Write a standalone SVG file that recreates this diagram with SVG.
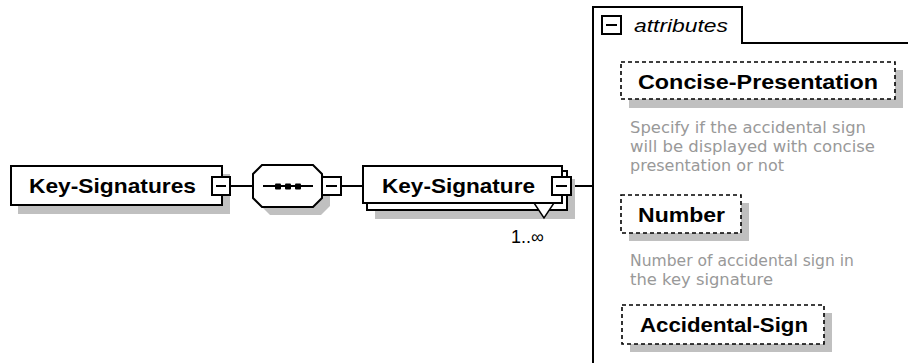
<svg xmlns="http://www.w3.org/2000/svg" width="908" height="363" viewBox="0 0 908 363">
<style>
.box{fill:#fff;stroke:#000;stroke-width:2}
.shadow{fill:#c0c0c0}
.dash{fill:#fff;stroke:#000;stroke-width:1.6;stroke-dasharray:4 3}
.line{stroke:#000;stroke-width:2;fill:none}
.name{font-family:"Liberation Sans",Arial,sans-serif;font-weight:bold;font-size:21px;fill:#000}
.desc{font-family:"DejaVu Sans","Liberation Sans",sans-serif;font-size:15.5px;fill:#999}
.minus{stroke:#000;stroke-width:2}
</style>
<rect width="908" height="363" fill="#fff"/>
<g id="connectors">
<line class="line" x1="230" y1="186" x2="253" y2="186"/>
<line class="line" x1="342" y1="186" x2="363" y2="186"/>
<line class="line" x1="572" y1="186" x2="593" y2="186"/>
</g>
<g id="key-signatures">
<rect class="shadow" x="18" y="174" width="212" height="40"/>
<rect class="box" x="11" y="166" width="211" height="39"/>
<text class="name" x="29" y="193" textLength="167" lengthAdjust="spacingAndGlyphs">Key-Signatures</text>
<rect class="box" x="212" y="177" width="18" height="18"/>
<line class="minus" x1="216" y1="186" x2="226" y2="186"/>
</g>
<g id="sequence">
<polygon class="shadow" points="270,173 321,173 330,182 330,206 321,215 270,215 261,206 261,182"/>
<polygon class="box" points="262,165 313,165 322,174 322,198 313,207 262,207 253,198 253,174"/>
<line class="line" x1="263" y1="186" x2="313" y2="186"/>
<rect x="275" y="183.5" width="6" height="6" rx="1" fill="#000"/>
<rect x="285" y="183.5" width="6" height="6" rx="1" fill="#000"/>
<rect x="295" y="183.5" width="6" height="6" rx="1" fill="#000"/>
<rect class="box" x="322" y="177" width="19" height="18"/>
<line class="minus" x1="326" y1="186" x2="337" y2="186"/>
</g>
<g id="key-signature">
<rect class="shadow" x="375" y="179" width="200" height="40"/>
<rect class="box" x="367" y="171" width="200" height="39"/>
<rect class="box" x="363" y="166" width="199" height="37"/>
<polygon points="534,203 554,203 544,218" fill="#fff" stroke="#000" stroke-width="1.5"/>
<line x1="535" y1="203" x2="553" y2="203" stroke="#000" stroke-width="2"/>
<text class="name" x="382" y="193" textLength="153" lengthAdjust="spacingAndGlyphs">Key-Signature</text>
<rect class="box" x="552" y="177" width="19" height="18"/>
<line class="minus" x1="556" y1="186" x2="567" y2="186"/>
<text x="511" y="243" font-family="'Liberation Sans',Arial,sans-serif" font-size="18" fill="#000">1..∞</text>
</g>
<g id="attributes">
<path class="line" d="M593,363 V7 H742 V43 H908"/>
<rect class="box" x="602" y="16" width="19" height="18" stroke-width="1.6"/>
<line class="minus" x1="606" y1="25" x2="617" y2="25" stroke-width="1.6"/>
<text x="634" y="32" font-family="'Liberation Sans',Arial,sans-serif" font-style="italic" font-size="18" textLength="94" lengthAdjust="spacingAndGlyphs" fill="#000">attributes</text>
</g>
<g id="concise-presentation">
<rect class="shadow" x="629" y="70" width="274" height="38"/>
<rect class="dash" x="621" y="62" width="274" height="37"/>
<text class="name" x="638" y="89" textLength="240" lengthAdjust="spacingAndGlyphs">Concise-Presentation</text>
<text class="desc" x="630" y="133" textLength="236" lengthAdjust="spacingAndGlyphs">Specify if the accidental sign</text>
<text class="desc" x="630" y="152" textLength="245" lengthAdjust="spacingAndGlyphs">will be displayed with concise</text>
<text class="desc" x="630" y="171" textLength="154" lengthAdjust="spacingAndGlyphs">presentation or not</text>
</g>
<g id="number">
<rect class="shadow" x="629" y="203" width="120" height="38"/>
<rect class="dash" x="621" y="195" width="120" height="38"/>
<text class="name" x="638" y="222" textLength="87" lengthAdjust="spacingAndGlyphs">Number</text>
<text class="desc" x="630" y="266" textLength="224" lengthAdjust="spacingAndGlyphs">Number of accidental sign in</text>
<text class="desc" x="630" y="285" textLength="143" lengthAdjust="spacingAndGlyphs">the key signature</text>
</g>
<g id="accidental-sign">
<rect class="shadow" x="630" y="313" width="202" height="39"/>
<rect class="dash" x="622" y="305" width="202" height="39"/>
<text class="name" x="640" y="332" textLength="168" lengthAdjust="spacingAndGlyphs">Accidental-Sign</text>
</g>
</svg>
